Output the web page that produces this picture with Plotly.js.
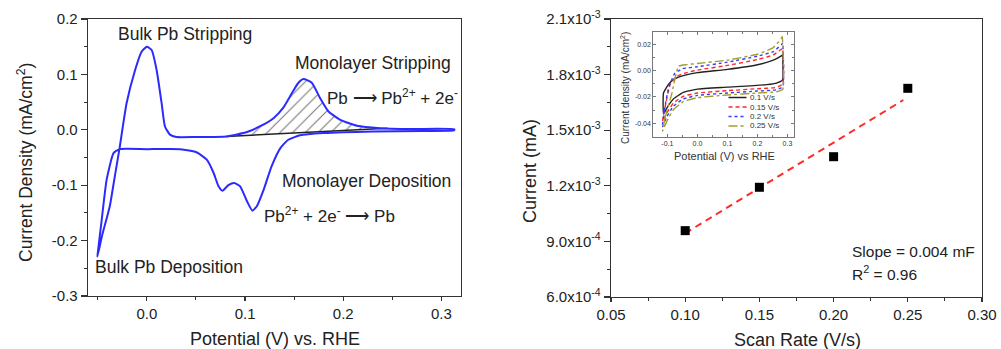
<!DOCTYPE html>
<html><head><meta charset="utf-8">
<script src="https://cdn.plot.ly/plotly-3.0.1.min.js"></script>
<style>html,body{margin:0;padding:0;background:#fff}#chart{width:1001px;height:349px}</style>
</head><body><div id="chart"></div>
<script>
// ---------- Left panel: CV of Pb UPD ----------
const cvAnodicX = [-0.0505, -0.0455, -0.0378, -0.0327, -0.028, -0.0207, -0.012, -0.0054, 0.0, 0.0048, 0.0099, 0.015, 0.0184, 0.0235, 0.030, 0.05, 0.081, 0.102, 0.115, 0.129, 0.139, 0.149, 0.154, 0.1595, 0.168, 0.1765, 0.185, 0.197, 0.214, 0.2375, 0.27, 0.313];
const cvAnodicY = [-0.229, -0.19, -0.138, -0.084, -0.035, 0.048, 0.108, 0.141, 0.150, 0.144, 0.108, 0.048, 0.006, -0.0087, -0.013, -0.013, -0.012, -0.004, 0.006, 0.021, 0.040, 0.070, 0.084, 0.0915, 0.085, 0.057, 0.033, 0.018, 0.0072, 0.003, 0.0015, 0.001];
const cvCathodicX = [0.313, 0.28, 0.231, 0.18, 0.156, 0.144, 0.136, 0.127, 0.119, 0.112, 0.1075, 0.102, 0.095, 0.089, 0.083, 0.077, 0.073, 0.068, 0.061, 0.051, 0.034, 0.0, -0.028, -0.034, -0.041, -0.046, -0.0497, -0.0505];
const cvCathodicY = [-0.001, -0.002, -0.003, -0.006, -0.010, -0.018, -0.033, -0.066, -0.108, -0.138, -0.146, -0.129, -0.102, -0.096, -0.100, -0.110, -0.102, -0.078, -0.054, -0.041, -0.035, -0.035, -0.035, -0.042, -0.090, -0.162, -0.217, -0.229];
const baselineX = [0.081, 0.245];
const baselineY = [-0.012, 0.003];

const leftXTicks = [0.0, 0.1, 0.2, 0.3];
const leftXTickText = ['0.0', '0.1', '0.2', '0.3'];
const leftYTicks = [-0.3, -0.2, -0.1, 0.0, 0.1, 0.2];
const leftYTickText = ['-0.3', '-0.2', '-0.1', '0.0', '0.1', '0.2'];

// ---------- Right panel: current vs scan rate ----------
const scanRate = [0.10, 0.15, 0.20, 0.25];
const current = [9.58e-4, 1.192e-3, 1.357e-3, 1.726e-3];
const fitX = [0.10, 0.247];
const fitY = [9.44e-4, 1.663e-3];

const rightXTicks = [0.05, 0.10, 0.15, 0.20, 0.25, 0.30];
const rightXTickText = ['0.05', '0.10', '0.15', '0.20', '0.25', '0.30'];
const rightYTicks = [6e-4, 9e-4, 1.2e-3, 1.5e-3, 1.8e-3, 2.1e-3];
const rightYTickText = ['6.0x10<sup>-4</sup>', '9.0x10<sup>-4</sup>', '1.2x10<sup>-3</sup>', '1.5x10<sup>-3</sup>', '1.8x10<sup>-3</sup>', '2.1x10<sup>-3</sup>'];

// ---------- Inset: CVs at different scan rates ----------
const insetLabels = ['0.1 V/s', '0.15 V/s', '0.2 V/s', '0.25 V/s'];
const cv01X = [-0.113, -0.113, -0.097, -0.08, -0.047, 0, 0.1, 0.2, 0.253, 0.281, 0.284, 0.285, 0.284, 0.264, 0.231, 0.1, 0, -0.047, -0.08, -0.102, -0.113];
const cv01Y = [-0.033, -0.017, -0.0106, -0.0068, -0.0038, -0.0015, 0.001, 0.0045, 0.008, 0.0115, 0.012, 0.005, -0.007, -0.0094, -0.0106, -0.0125, -0.014, -0.0165, -0.0215, -0.0284, -0.033];
const cv015X = [-0.116, -0.108, -0.091, -0.069, -0.036, 0, 0.1, 0.2, 0.253, 0.281, 0.284, 0.285, 0.264, 0.2, 0.1, 0, -0.047, -0.08, -0.102, -0.116];
const cv015Y = [-0.0385, -0.028, -0.0106, -0.0043, -0.0015, 0.0005, 0.004, 0.0085, 0.012, 0.0165, 0.017, -0.01, -0.0127, -0.0137, -0.0152, -0.017, -0.0195, -0.0246, -0.0322, -0.0385];
const cv02X = [-0.117, -0.11, -0.095, -0.075, -0.05, 0, 0.1, 0.2, 0.253, 0.281, 0.284, 0.285, 0.264, 0.2, 0.1, 0, -0.047, -0.08, -0.102, -0.117];
const cv02Y = [-0.043, -0.03, -0.012, -0.002, 0.0015, 0.003, 0.0065, 0.011, 0.0145, 0.02, 0.021, -0.012, -0.0145, -0.0155, -0.017, -0.0188, -0.0215, -0.027, -0.035, -0.043];
const cv025X = [-0.116, -0.108, -0.086, -0.063, -0.036, 0, 0.1, 0.2, 0.253, 0.281, 0.283, 0.285, 0.264, 0.2, 0.1, 0, -0.047, -0.08, -0.102, -0.116];
const cv025Y = [-0.046, -0.036, -0.018, 0.0033, 0.0046, 0.0055, 0.008, 0.0125, 0.0175, 0.025, 0.026, -0.014, -0.016, -0.017, -0.0185, -0.0205, -0.0235, -0.0297, -0.0385, -0.046];

const insetXTicks = [-0.1, 0.0, 0.1, 0.2, 0.3];
const insetXTickText = ['-0.1', '0.0', '0.1', '0.2', '0.3'];
const insetYTicks = [-0.04, -0.02, 0.0, 0.02];
const insetYTickText = ['-0.04', '-0.02', '0.00', '0.02'];

// ---------- build ----------
const FONT = 'Arial, "Liberation Sans", sans-serif';
const W = 1001, H = 349;
const px = v => v / W;
const py = v => 1 - v / H;

// hatched region polygon: anodic curve over baseline span + baseline back
const hx = [], hy = [];
cvAnodicX.forEach((x, i) => { if (x >= baselineX[0] && x <= baselineX[1]) { hx.push(x); hy.push(cvAnodicY[i]); } });
hx.push(baselineX[1], baselineX[0]);
hy.push(baselineY[1], baselineY[0]);

const insetCurves = [
  {x: cv01X, y: cv01Y, color: '#222222', dash: 'solid'},
  {x: cv015X, y: cv015Y, color: '#ff2a2a', dash: '4px,3px'},
  {x: cv02X, y: cv02Y, color: '#3a3aff', dash: 'dot'},
  {x: cv025X, y: cv025Y, color: '#a0a030', dash: 'dashdot'}
];

const data = [
  {x: hx, y: hy, xaxis: 'x', yaxis: 'y', type: 'scatter', mode: 'lines', fill: 'toself',
   line: {width: 0}, fillcolor: 'rgba(0,0,0,0)',
   fillpattern: {shape: '/', fgcolor: '#777777', bgcolor: 'rgba(0,0,0,0)', size: 9, solidity: 0.12, fillmode: 'replace'},
   hoverinfo: 'skip'},
  {x: baselineX, y: baselineY, xaxis: 'x', yaxis: 'y', type: 'scatter', mode: 'lines',
   line: {color: '#222222', width: 1.5}},
  {x: cvAnodicX.concat(cvCathodicX), y: cvAnodicY.concat(cvCathodicY), xaxis: 'x', yaxis: 'y',
   type: 'scatter', mode: 'lines', line: {color: '#2b2bff', width: 2, shape: 'spline', smoothing: 0.5}},
  {x: fitX, y: fitY, xaxis: 'x2', yaxis: 'y2', type: 'scatter', mode: 'lines',
   line: {color: '#ff2a2a', width: 2, dash: '7px,5px'}},
  {x: scanRate, y: current, xaxis: 'x2', yaxis: 'y2', type: 'scatter', mode: 'markers',
   marker: {symbol: 'square', size: 9, color: '#000000'}}
];
insetCurves.forEach(c => data.push({x: c.x, y: c.y, xaxis: 'x3', yaxis: 'y3', type: 'scatter', mode: 'lines',
  line: {color: c.color, width: 1.4, dash: c.dash, shape: 'spline', smoothing: 0.4}}));

const axBase = {showgrid: false, zeroline: false, showline: true, linecolor: '#333', linewidth: 1.3,
  mirror: true, ticks: 'outside', ticklen: 6, tickwidth: 1.2, tickcolor: '#333',
  tickfont: {family: FONT, size: 15, color: '#222'}, tickmode: 'array', automargin: false, fixedrange: true};
const mirBase = {showgrid: false, zeroline: false, showline: false, ticks: 'inside', ticklen: 5, tickwidth: 1.2,
  tickcolor: '#333', showticklabels: false, tickmode: 'array', fixedrange: true};

const leftDomX = [px(88), px(461)], leftDomY = [py(296), py(19)];
const rightDomX = [px(611), px(982)], rightDomY = [py(297), py(19)];
const insetDomX = [px(653.3), px(794)], insetDomY = [py(136.7), py(32.3)];

const minor = (t0, d, dir) => ({tickmode: 'linear', tick0: t0, dtick: d, ticks: dir, ticklen: 3, tickwidth: 1, tickcolor: '#333'});

const layout = {
  width: W, height: H, margin: {l: 0, r: 0, t: 0, b: 0},
  paper_bgcolor: '#fff', plot_bgcolor: 'rgba(0,0,0,0)', showlegend: false,
  font: {family: FONT, color: '#222'},
  xaxis: Object.assign({}, axBase, {domain: leftDomX, anchor: 'y', range: [-0.06, 0.32], ticklen: 4,
    tickvals: leftXTicks, ticktext: leftXTickText, minor: minor(0, 0.05, 'outside')}),
  yaxis: Object.assign({}, axBase, {domain: leftDomY, anchor: 'x', range: [-0.3, 0.2],
    tickvals: leftYTicks, ticktext: leftYTickText, minor: minor(0, 0.05, 'outside')}),
  xaxis5: Object.assign({}, mirBase, {overlaying: 'x', anchor: 'y', side: 'top', range: [-0.06, 0.32],
    tickvals: leftXTicks, minor: minor(0, 0.05, 'inside')}),
  yaxis5: Object.assign({}, mirBase, {overlaying: 'y', anchor: 'x', side: 'right', range: [-0.3, 0.2],
    tickvals: leftYTicks, minor: minor(0, 0.05, 'inside')}),
  xaxis2: Object.assign({}, axBase, {domain: rightDomX, anchor: 'y2', range: [0.05, 0.30], ticklen: 4,
    tickvals: rightXTicks, ticktext: rightXTickText, minor: minor(0.05, 0.025, 'outside')}),
  yaxis2: Object.assign({}, axBase, {domain: rightDomY, anchor: 'x2', range: [6e-4, 2.1e-3],
    tickvals: rightYTicks, ticktext: rightYTickText, minor: minor(6e-4, 1.5e-4, 'outside')}),
  xaxis4: Object.assign({}, mirBase, {overlaying: 'x2', anchor: 'y2', side: 'top', range: [0.05, 0.30],
    tickvals: rightXTicks, minor: minor(0.05, 0.025, 'inside')}),
  yaxis4: Object.assign({}, mirBase, {overlaying: 'y2', anchor: 'x2', side: 'right', range: [6e-4, 2.1e-3],
    tickvals: rightYTicks, minor: minor(6e-4, 1.5e-4, 'inside')}),
  xaxis3: Object.assign({}, axBase, {domain: insetDomX, anchor: 'y3', range: [-0.147, 0.322],
    linecolor: '#777', linewidth: 1, ticks: 'inside', mirror: 'ticks', ticklen: 3, tickwidth: 1, tickcolor: '#777',
    tickvals: insetXTicks, ticktext: insetXTickText, tickfont: {family: FONT, size: 7, color: '#333'},
    minor: {tickmode: 'linear', tick0: 0, dtick: 0.05, ticks: 'inside', ticklen: 2, tickcolor: '#777'}}),
  yaxis3: Object.assign({}, axBase, {domain: insetDomY, anchor: 'x3', range: [-0.0502, 0.0292],
    linecolor: '#777', linewidth: 1, ticks: 'inside', mirror: 'ticks', ticklen: 3, tickwidth: 1, tickcolor: '#777',
    tickvals: insetYTicks, ticktext: insetYTickText, tickfont: {family: FONT, size: 7, color: '#333'},
    minor: {tickmode: 'linear', tick0: 0, dtick: 0.01, ticks: 'inside', ticklen: 2, tickcolor: '#777'}}),
  annotations: [],
  shapes: []
};

const ann = (o) => layout.annotations.push(Object.assign({showarrow: false, xanchor: 'center', yanchor: 'middle',
  font: {family: FONT, size: 17.5, color: '#222'}}, o));
// left panel labels
ann({xref: 'x', yref: 'y', x: 0.0388, y: 0.173, text: 'Bulk Pb Stripping'});
ann({xref: 'x', yref: 'y', x: 0.2306, y: 0.121, text: 'Monolayer Stripping'});
ann({xref: 'x', yref: 'y', x: 0.1816, y: 0.060, text: 'Pb \u27F6 Pb<sup>2+</sup> + 2e<sup>-</sup>', xanchor: 'left', font: {family: FONT, size: 17, color: '#222'}});
ann({xref: 'x', yref: 'y', x: 0.2235, y: -0.092, text: 'Monolayer Deposition'});
ann({xref: 'x', yref: 'y', x: 0.1173, y: -0.153, text: 'Pb<sup>2+</sup> + 2e<sup>-</sup> \u27F6 Pb', xanchor: 'left', font: {family: FONT, size: 17, color: '#222'}});
ann({xref: 'x', yref: 'y', x: -0.0551, y: -0.247, text: 'Bulk Pb Deposition', xanchor: 'left'});
// axis titles
ann({xref: 'paper', yref: 'paper', x: px(275), y: py(339), text: 'Potential (V) vs. RHE', font: {family: FONT, size: 18, color: '#222'}});
ann({xref: 'paper', yref: 'paper', x: px(25), y: py(163), text: 'Current Density (mA/cm<sup>2</sup>)', textangle: -90});
ann({xref: 'paper', yref: 'paper', x: px(530), y: py(171), text: 'Current (mA)', textangle: -90, font: {family: FONT, size: 18, color: '#222'}});
ann({xref: 'paper', yref: 'paper', x: px(797), y: py(340), text: 'Scan Rate (V/s)', font: {family: FONT, size: 18, color: '#222'}});
// right panel text
ann({xref: 'x2', yref: 'y2', x: 0.211, y: 8.48e-4, text: 'Slope = 0.004 mF', xanchor: 'left', font: {family: FONT, size: 15.5, color: '#222'}});
ann({xref: 'x2', yref: 'y2', x: 0.211, y: 7.3e-4, text: 'R<sup>2</sup> = 0.96', xanchor: 'left', font: {family: FONT, size: 15.5, color: '#222'}});
// inset titles
ann({xref: 'paper', yref: 'paper', x: px(625), y: py(88), text: 'Current density (mA/cm<sup>2</sup>)', textangle: -90, font: {family: FONT, size: 10, color: '#333'}});
ann({xref: 'paper', yref: 'paper', x: px(724), y: py(155.7), text: 'Potential (V) vs RHE', font: {family: FONT, size: 11, color: '#333'}});
// inset legend
const legRows = [97.5, 107, 116.5, 126];
insetCurves.forEach((c, i) => {
  layout.shapes.push({type: 'line', xref: 'paper', yref: 'paper', x0: px(728.5), x1: px(746.5), y0: py(legRows[i]), y1: py(legRows[i]),
    line: {color: c.color, width: 1.5, dash: c.dash}});
  ann({xref: 'paper', yref: 'paper', x: px(748), y: py(legRows[i]), text: insetLabels[i], xanchor: 'left',
    font: {family: FONT, size: 8, color: '#333'}});
});

Plotly.newPlot('chart', data, layout, {displayModeBar: false, staticPlot: true});
</script>
</body></html>
